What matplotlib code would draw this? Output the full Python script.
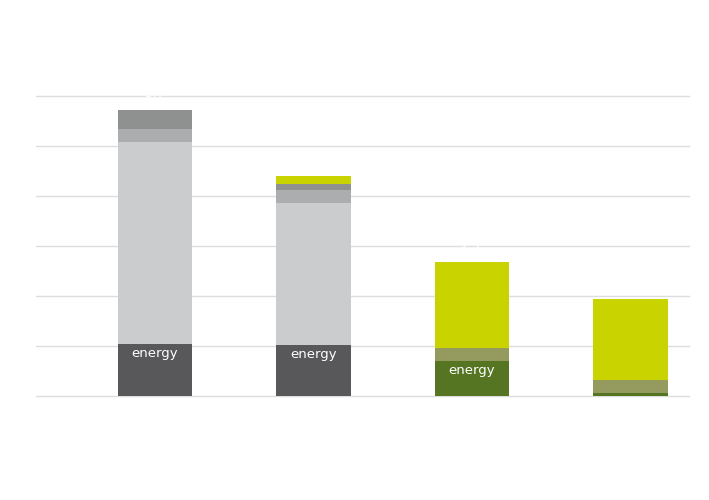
import matplotlib
matplotlib.use("Agg")
import matplotlib.pyplot as plt
import numpy as np

categories = ["A", "B", "C", "D"]
energy_grey = [1.04, 1.03, 0.0, 0.0]
light_grey = [4.04, 2.83, 0.0, 0.0]
mid_grey = [0.26, 0.27, 0.0, 0.0]
dark_grey = [0.38, 0.11, 0.0, 0.0]
energy_green = [0.0, 0.0, 0.71, 0.06]
olive = [0.0, 0.0, 0.25, 0.27]
yellow = [0.0, 0.17, 1.73, 1.61]
energy_labels = ["energy", "energy", "energy", ""]

segments = [
    (energy_grey, "#58585a"),
    (energy_green, "#557522"),
    (light_grey, "#cbcccd"),
    (olive, "#959a5f"),
    (mid_grey, "#acadae"),
    (dark_grey, "#8f9090"),
    (yellow, "#c9d300"),
]

fig = plt.figure(figsize=(7.09, 5.0), dpi=100)
ax = fig.add_axes([36 / 709, 104 / 500, 653 / 709, 300 / 500])

x = np.arange(len(categories))
bottom = np.zeros(len(categories))
for vals, col in segments:
    v = np.array(vals)
    ax.bar(x, v, bottom=bottom, width=0.47, color=col, zorder=3, linewidth=0)
    bottom += v

energy_tops = np.array(energy_grey) + np.array(energy_green)
for i, lab in enumerate(energy_labels):
    if lab:
        ax.text(x[i], energy_tops[i] - 0.2, lab, color="white", fontsize=9.5,
                ha="center", va="center", zorder=5)

totals = bottom
for i, t in enumerate(totals):
    ax.text(x[i], t + 0.33, f"{t:.1f}", color="white", fontsize=9.5,
            ha="center", va="center", zorder=5, clip_on=False)

ax.set_xlim(-0.751, 3.369)
ax.set_ylim(0, 6)
ax.set_yticks(np.arange(0, 7, 1))
ax.yaxis.grid(True, color="#dddddd", linewidth=1.0, zorder=0)
for gl in ax.get_ygridlines():
    gl.set_clip_on(False)
ax.tick_params(left=False, bottom=False, labelleft=False, labelbottom=False)
for s in ax.spines.values():
    s.set_visible(False)

fig.savefig("out.png", dpi=100)
